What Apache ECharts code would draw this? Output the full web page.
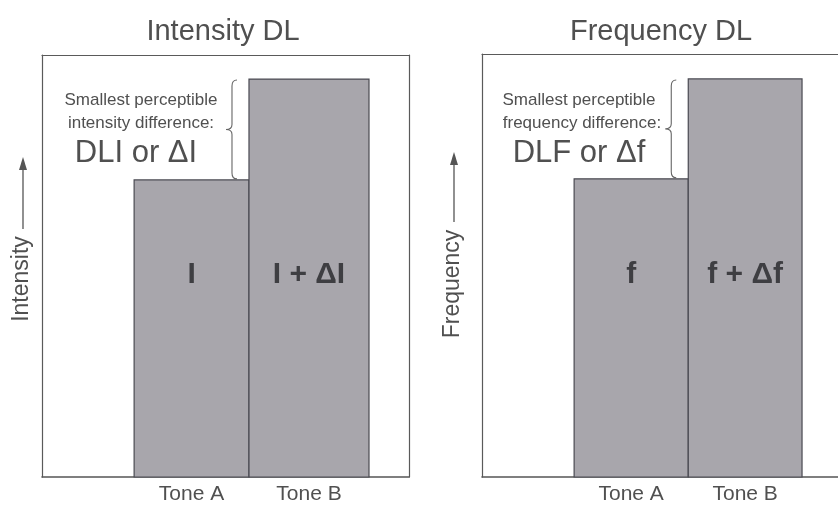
<!DOCTYPE html>
<html>
<head>
<meta charset="utf-8">
<script src="https://cdn.jsdelivr.net/npm/echarts@6/dist/echarts.min.js"></script>
<style>
html,body{margin:0;padding:0;background:#fff;}
#chart{width:838px;height:512px;}
</style>
</head>
<body>
<div id="chart"></div>
<script>
// ---- data ----
var panelTitles = ['Intensity DL', 'Frequency DL'];
var axisNames = ['Intensity', 'Frequency'];
var categories = ['Tone A', 'Tone B'];
// bar edges along the horizontal scale: [startA, startB, endB]
var edgesIntensity = [2.51, 5.64, 8.91];
var edgesFrequency = [2.51, 5.62, 8.72];
// bar heights (0..100 scale)
var valuesIntensity = [70.4, 94.3];
var valuesFrequency = [70.5, 94.1];
var barLabelsIntensity = ['I', 'I + \u0394I'];
var barLabelsFrequency = ['f', 'f + \u0394f'];
var labelLevel = 47.9;
var noteLinesIntensity = ['Smallest perceptible', 'intensity difference:'];
var noteLinesFrequency = ['Smallest perceptible', 'frequency difference:'];
var noteBig = ['DLI or \u0394I', 'DLF or \u0394f'];

var FONT = '"Liberation Sans", Arial, Helvetica, sans-serif';
var TXT = '#505050';
var BORDER = '#5a5a5a';

function barData(edges, values, labels) {
  return values.map(function (v, i) { return [edges[i], edges[i + 1], v, labels[i]]; });
}
function centers(edges) { return [(edges[0] + edges[1]) / 2, (edges[1] + edges[2]) / 2]; }

function makeBarRender(labels) {
  return function (params, api) {
    var x0 = api.value(0), x1 = api.value(1), v = api.value(2);
    var p0 = api.coord([x0, 0]);
    var p1 = api.coord([x1, v]);
    var lp = api.coord([(x0 + x1) / 2, labelLevel]);
    return {
      type: 'group',
      children: [
        { type: 'rect', shape: { x: p0[0], y: p1[1], width: p1[0] - p0[0], height: p0[1] - p1[1] },
          style: { fill: '#a8a6ac', stroke: '#4a4a52', lineWidth: 1.2 } },
        { type: 'text', x: lp[0], y: lp[1],
          style: { text: labels[params.dataIndex], fill: '#3e3e42', font: 'bold 30px ' + FONT, textAlign: 'center', textVerticalAlign: 'middle' } }
      ]
    };
  };
}

function braceRender(params, api) {
  var x = api.value(0), lo = api.value(1), hi = api.value(2);
  var pLo = api.coord([x, lo]);
  var pHi = api.coord([x, hi]);
  var bx = pLo[0] - 17;
  var top = pHi[1] + 1, bot = pLo[1] - 1, mid = (top + bot) / 2;
  var d = 'M' + (bx + 5) + ' ' + top +
    ' Q' + bx + ' ' + top + ' ' + bx + ' ' + (top + 6) +
    ' L' + bx + ' ' + (mid - 5) +
    ' Q' + bx + ' ' + mid + ' ' + (bx - 6) + ' ' + mid +
    ' Q' + bx + ' ' + mid + ' ' + bx + ' ' + (mid + 5) +
    ' L' + bx + ' ' + (bot - 6) +
    ' Q' + bx + ' ' + bot + ' ' + (bx + 5) + ' ' + bot;
  return { type: 'path', shape: { pathData: d }, style: { fill: null, stroke: '#666', lineWidth: 1.1 } };
}

var chart = echarts.init(document.getElementById('chart'));

var grids = [
  { left: 42, top: 55, width: 367, height: 422 },
  { left: 482, top: 54, width: 356, height: 423 }
];
var xMax = [10, 9.7];
var allEdges = [edgesIntensity, edgesFrequency];
var allVals = [valuesIntensity, valuesFrequency];
var allLabels = [barLabelsIntensity, barLabelsFrequency];

var xAxes = [], yAxes = [], series = [];
grids.forEach(function (g, k) {
  var c = centers(allEdges[k]);
  xAxes.push({
    type: 'value', gridIndex: k, min: 0, max: xMax[k], position: 'bottom',
    axisLine: { show: true, onZero: false, lineStyle: { color: '#555', width: 1.6 } },
    axisTick: { show: false }, splitLine: { show: false },
    axisLabel: {
      customValues: c, margin: 7, color: TXT, fontSize: 21, fontFamily: FONT,
      formatter: function (val) { return Math.abs(val - c[0]) < 1e-6 ? categories[0] : categories[1]; }
    }
  });
  // top frame edge
  xAxes.push({
    type: 'value', gridIndex: k, min: 0, max: xMax[k], position: 'top',
    axisLine: { show: true, onZero: false, lineStyle: { color: BORDER, width: 1.2 } },
    axisTick: { show: false }, splitLine: { show: false }, axisLabel: { show: false }
  });
  // left frame edge
  yAxes.push({
    type: 'value', gridIndex: k, min: 0, max: 100, position: 'left',
    axisLine: { show: true, onZero: false, lineStyle: { color: BORDER, width: 1.2 } },
    axisTick: { show: false }, axisLabel: { show: false }, splitLine: { show: false }
  });
  // right frame edge (only visible for the left panel; the right panel runs off the page)
  yAxes.push({
    type: 'value', gridIndex: k, min: 0, max: 100, position: 'right',
    axisLine: { show: k === 0, onZero: false, lineStyle: { color: BORDER, width: 1.2 } },
    axisTick: { show: false }, axisLabel: { show: false }, splitLine: { show: false }
  });
  series.push({
    type: 'custom', xAxisIndex: 2 * k, yAxisIndex: 2 * k,
    data: barData(allEdges[k], allVals[k], allLabels[k]),
    encode: { x: [0, 1], y: 2 },
    renderItem: makeBarRender(allLabels[k]),
    silent: true
  });
  series.push({
    type: 'custom', xAxisIndex: 2 * k, yAxisIndex: 2 * k, z: 3,
    data: [[allEdges[k][1], allVals[k][0], allVals[k][1]]],
    encode: { x: 0, y: [1, 2] },
    renderItem: braceRender, silent: true
  });
});

function txt(x, y, s, size, extra) {
  var o = { type: 'text', x: x, y: y, z: 10,
    style: { text: s, fill: TXT, font: size + 'px ' + FONT, textAlign: 'center', textVerticalAlign: 'middle' } };
  if (extra) for (var k in extra) o[k] = extra[k];
  return o;
}
function arrow(x, yTop, yBottom) {
  return [
    { type: 'line', z: 10, shape: { x1: x, y1: yBottom, x2: x, y2: yTop + 10 }, style: { stroke: '#555', lineWidth: 1.3 } },
    { type: 'polygon', z: 10, shape: { points: [[x, yTop], [x - 4, yTop + 13], [x + 4, yTop + 13]] }, style: { fill: '#555' } }
  ];
}

var graphics = [
  txt(223, 32, panelTitles[0], 29),
  txt(661, 32, panelTitles[1], 29),
  txt(141, 100, noteLinesIntensity[0], 17),
  txt(141, 123, noteLinesIntensity[1], 17),
  txt(136, 153, noteBig[0], 31),
  txt(579, 100, noteLinesFrequency[0], 17),
  txt(582, 123, noteLinesFrequency[1], 17),
  txt(579, 153, noteBig[1], 31),
  txt(22, 279, axisNames[0], 23, { rotation: Math.PI / 2 }),
  txt(453, 284, axisNames[1], 23, { rotation: Math.PI / 2 })
].concat(arrow(23, 157, 229)).concat(arrow(454, 152, 222));

chart.setOption({
  backgroundColor: '#fff',
  animation: false,
  grid: grids,
  xAxis: xAxes,
  yAxis: yAxes,
  series: series,
  graphic: graphics
});
</script>
</body>
</html>
